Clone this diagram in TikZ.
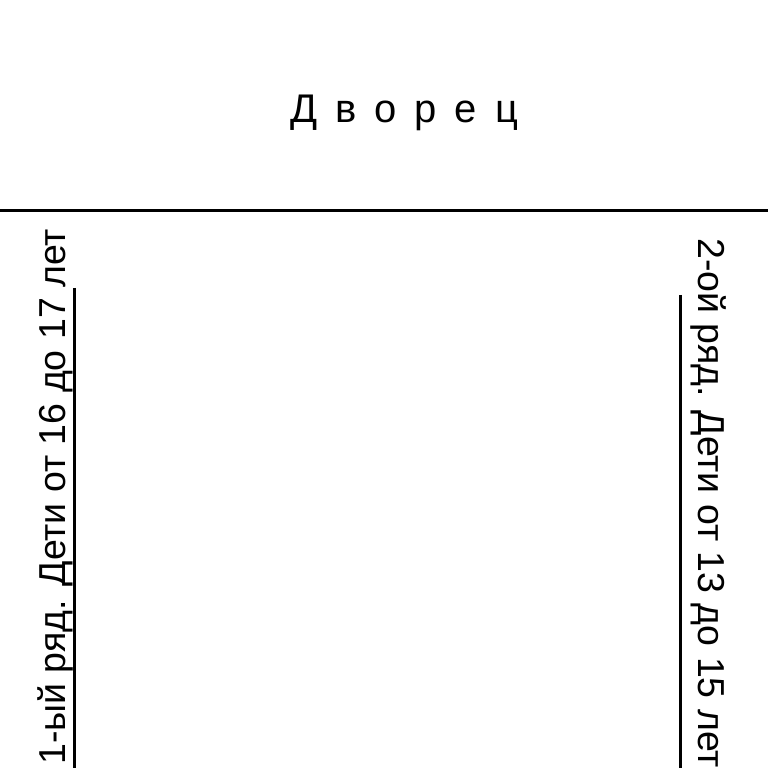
\documentclass[tikz,border=0pt]{standalone}
\usepackage{fontspec}
\setmainfont{Liberation Sans}
\usetikzlibrary{positioning}
\tikzset{title/.style={font=\fontsize{40}{44}\selectfont, inner sep=0pt},
        row/.style={font=\fontsize{37.5}{40}\selectfont, inner sep=0pt},
        rule/.style={line width=3pt},
        }

\begin{document}
\begin{tikzpicture}[x=1pt,y=1pt]
    \useasboundingbox (0,0) rectangle (768,768);

    \node[title, anchor=base] (palace) at (404,645) {\spaceskip=0.45em Д в о р е ц};
    \coordinate (wallW) at (0,557);
    \coordinate (wallE) at (768,557);
    \draw[rule] (wallW) -- (wallE);

    \node[row, rotate=90, anchor=base west] (rowA) at (65,3) {1-ый ряд. Дети от 16 до 17 лет};
    \coordinate (rowAtop) at (74,480);
    \coordinate (rowAend) at (74,0);
    \draw[rule] (rowAtop) -- (rowAend);

    \node[row, rotate=-90, anchor=base west] (rowB) at (698,530) {2-ой ряд. Дети от 13 до 15 лет};
    \coordinate (rowBtop) at (680,473);
    \coordinate (rowBend) at (680,0);
    \draw[rule] (rowBtop) -- (rowBend);
\end{tikzpicture}
\end{document}
